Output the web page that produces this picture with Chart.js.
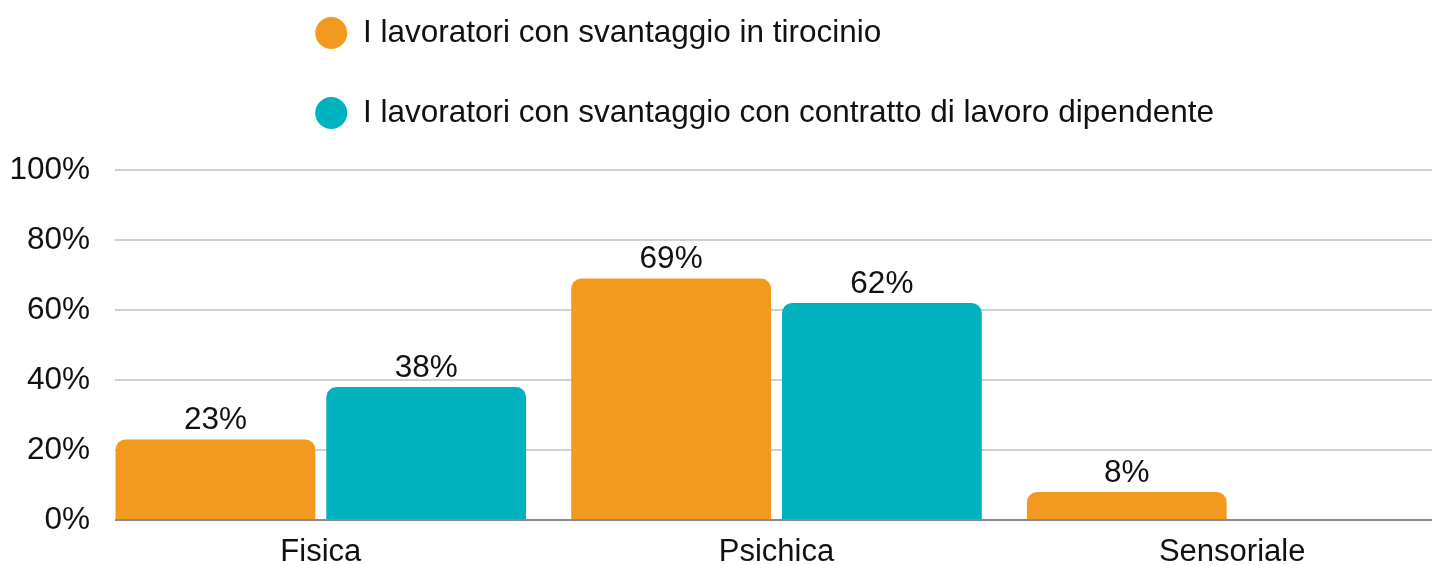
<!DOCTYPE html>
<html>
<head>
<meta charset="utf-8">
<script src="https://cdn.jsdelivr.net/npm/chart.js@4/dist/chart.umd.min.js"></script>
<style>
  html, body { margin: 0; padding: 0; background: #fff; overflow: hidden; }
  #wrap { width: 1432px; height: 565px; overflow: hidden; }
</style>
</head>
<body>
<div id="wrap"><canvas id="chart" width="1460" height="565"></canvas></div>
<script>
const categories = ['Fisica', 'Psichica', 'Sensoriale'];
const seriesNames = [
  'I lavoratori con svantaggio in tirocinio',
  'I lavoratori con svantaggio con contratto di lavoro dipendente'
];
const tirocinio = [23, 69, 8];
const contratto = [38, 62, null];
const colors = ['#f29a1f', '#00b2bd'];

const FONT = 'Arial, "Liberation Sans", sans-serif';
const TEXT = '#111';
const FS = 31.5;

// grid in the original starts a bit right of the category band
const GRID_INSET = 22;

// the legend rows sit left-aligned, off-centre; move the legend box after layout
const legendShift = {
  id: 'legendShift',
  afterLayout(chart) {
    const lg = chart.legend;
    lg.left += 266.75; lg.right += 266.75;
    lg.top -= 31.25; lg.bottom -= 31.25;
  }
};

const gridTrim = {
  id: 'gridTrim',
  beforeDatasetsDraw(chart) {
    const { ctx, chartArea } = chart;
    ctx.save();
    ctx.fillStyle = '#fff';
    ctx.fillRect(chartArea.left, chartArea.top - 2, GRID_INSET, chartArea.bottom - chartArea.top + 4);
    ctx.restore();
  }
};

const valueLabels = {
  id: 'valueLabels',
  afterDatasetsDraw(chart) {
    const { ctx } = chart;
    ctx.save();
    ctx.font = FS + 'px ' + FONT;
    ctx.fillStyle = TEXT;
    ctx.textAlign = 'center';
    ctx.textBaseline = 'middle';
    chart.data.datasets.forEach((ds, i) => {
      chart.getDatasetMeta(i).data.forEach((bar, j) => {
        const v = ds.data[j];
        if (v == null) return;
        ctx.fillText(v + '%', bar.x, bar.y - 19);
      });
    });
    ctx.restore();
  }
};

new Chart(document.getElementById('chart'), {
  type: 'bar',
  data: {
    labels: categories,
    datasets: [
      { label: seriesNames[0], data: tirocinio, backgroundColor: colors[0] },
      { label: seriesNames[1], data: contratto, backgroundColor: colors[1] }
    ]
  },
  options: {
    responsive: false,
    animation: false,
    devicePixelRatio: 1,
    datasets: {
      bar: {
        categoryPercentage: 0.925,
        barPercentage: 0.948,
        borderRadius: { topLeft: 10, topRight: 10 },
        borderSkipped: 'start'
      }
    },
    layout: { padding: 0 },
    plugins: {
      legend: {
        position: 'top',
        align: 'start',
        labels: {
          usePointStyle: true,
          pointStyle: 'circle',
          pointStyleWidth: 32,
          boxHeight: 22.6,
          padding: 48.5,
          color: TEXT,
          font: { family: FONT, size: FS }
        }
      },
      tooltip: { enabled: false }
    },
    scales: {
      x: {
        afterFit(scale) { scale.height = 45; },
        grid: { display: false, drawTicks: false },
        border: { display: false },
        ticks: { color: TEXT, padding: 17, font: { family: FONT, size: 31, lineHeight: 1 } }
      },
      y: {
        min: 0,
        max: 100,
        afterFit(scale) { scale.width = 93; },
        grid: {
          drawTicks: false,
          color: (c) => (c.tick && c.tick.value === 0 ? '#8a8a8a' : '#d0d0d0'),
          lineWidth: 2
        },
        border: { display: false },
        ticks: {
          stepSize: 20,
          padding: 3,
          color: TEXT,
          font: { family: FONT, size: FS },
          callback: (v) => v + '%'
        }
      }
    }
  },
  plugins: [legendShift, gridTrim, valueLabels]
});
</script>
</body>
</html>
